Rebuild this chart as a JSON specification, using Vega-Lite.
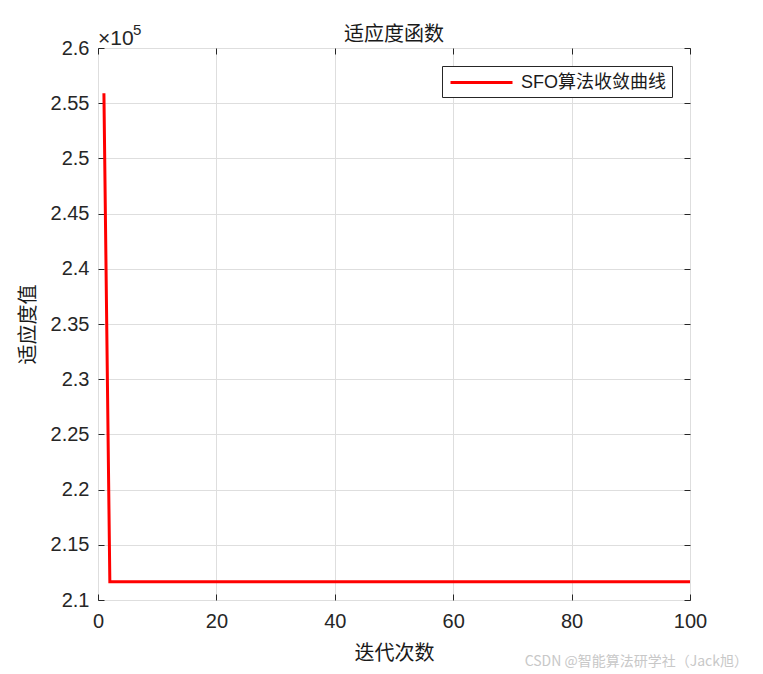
{
  "$schema": "https://vega.github.io/schema/vega-lite/v6.json",
  "width": 592,
  "height": 552,
  "autosize": {"type": "none"},
  "padding": {"left": 98, "top": 48, "right": 73, "bottom": 74},
  "background": "white",
  "config": {
    "view": {"stroke": "#262626", "strokeWidth": 1},
    "font": "Liberation Sans"
  },
  "title": {
    "text": "适应度函数",
    "font": "Noto Sans CJK SC",
    "fontSize": 20,
    "fontWeight": "normal",
    "color": "#1a1a1a",
    "offset": 0,
    "dy": 22,
    "anchor": "middle"
  },
  "datasets": {
    "curve": [
      {"iter": 1, "fitness": 255900, "series": "SFO算法收敛曲线"},
      {"iter": 2, "fitness": 211650, "series": "SFO算法收敛曲线"},
      {"iter": 3, "fitness": 211650, "series": "SFO算法收敛曲线"},
      {"iter": 4, "fitness": 211650, "series": "SFO算法收敛曲线"},
      {"iter": 5, "fitness": 211650, "series": "SFO算法收敛曲线"},
      {"iter": 6, "fitness": 211650, "series": "SFO算法收敛曲线"},
      {"iter": 7, "fitness": 211650, "series": "SFO算法收敛曲线"},
      {"iter": 8, "fitness": 211650, "series": "SFO算法收敛曲线"},
      {"iter": 9, "fitness": 211650, "series": "SFO算法收敛曲线"},
      {"iter": 10, "fitness": 211650, "series": "SFO算法收敛曲线"},
      {"iter": 20, "fitness": 211650, "series": "SFO算法收敛曲线"},
      {"iter": 30, "fitness": 211650, "series": "SFO算法收敛曲线"},
      {"iter": 40, "fitness": 211650, "series": "SFO算法收敛曲线"},
      {"iter": 50, "fitness": 211650, "series": "SFO算法收敛曲线"},
      {"iter": 60, "fitness": 211650, "series": "SFO算法收敛曲线"},
      {"iter": 70, "fitness": 211650, "series": "SFO算法收敛曲线"},
      {"iter": 80, "fitness": 211650, "series": "SFO算法收敛曲线"},
      {"iter": 90, "fitness": 211650, "series": "SFO算法收敛曲线"},
      {"iter": 100, "fitness": 211650, "series": "SFO算法收敛曲线"}
    ],
    "base": [
      {"iter": 0, "fitness": 260000, "label": "×10"}
    ],
    "expo": [
      {"iter": 0, "fitness": 260000, "label": "5"}
    ],
    "mark": [
      {"iter": 100, "fitness": 210000, "label": "CSDN @智能算法研学社（Jack旭）"}
    ]
  },
  "layer": [
    {
      "data": {"name": "curve"},
      "mark": {"type": "line", "strokeWidth": 3, "clip": true},
      "encoding": {
        "x": {
          "field": "iter", "type": "quantitative",
          "scale": {"domain": [0, 100], "nice": false, "zero": false},
          "axis": {
            "title": "迭代次数",
            "titleFont": "Noto Sans CJK SC",
            "titleFontSize": 20,
            "titleFontWeight": "normal",
            "titleColor": "#1a1a1a",
            "titlePadding": 12,
            "values": [0, 20, 40, 60, 80, 100],
            "labelFontSize": 20,
            "labelColor": "#262626",
            "labelPadding": 17,
            "tickSize": -6,
            "tickColor": "#262626",
            "domain": false,
            "gridColor": "#dedede",
            "labelFlush": false
          }
        },
        "y": {
          "field": "fitness", "type": "quantitative",
          "scale": {"domain": [210000, 260000], "nice": false, "zero": false},
          "axis": {
            "title": "适应度值",
            "titleFont": "Noto Sans CJK SC",
            "titleFontSize": 20,
            "titleFontWeight": "normal",
            "titleColor": "#1a1a1a",
            "titlePadding": 12,
            "values": [210000, 215000, 220000, 225000, 230000, 235000, 240000, 245000, 250000, 255000, 260000],
            "labelExpr": "datum.value / 100000 + ''",
            "labelFontSize": 20,
            "labelColor": "#262626",
            "labelPadding": 15,
            "tickSize": -6,
            "tickColor": "#262626",
            "domain": false,
            "gridColor": "#dedede",
            "labelFlush": false
          }
        },
        "stroke": {
          "field": "series", "type": "nominal",
          "scale": {"range": ["#ff0000"]},
          "legend": {
            "title": null,
            "orient": "top-right",
            "offset": 18,
            "fillColor": "white",
            "strokeColor": "#262626",
            "padding": 5,
            "symbolType": "M-3.1,0L3.1,0",
            "symbolSize": 400,
            "symbolOffset": 23,
            "labelOffset": 28,
            "symbolStrokeWidth": 3,
            "labelFont": "Liberation Sans, Noto Sans CJK SC",
            "labelFontSize": 18,
            "labelColor": "#1a1a1a",
            "labelLimit": 300
          }
        }
      }
    },
    {
      "data": {"name": "curve"},
      "mark": {"type": "point", "opacity": 0},
      "encoding": {
        "x": {
          "field": "iter", "type": "quantitative",
          "axis": {"orient": "top", "labels": false, "title": null, "grid": false, "domain": false, "tickSize": -6, "tickColor": "#262626", "values": [0, 20, 40, 60, 80, 100]}
        },
        "y": {
          "field": "fitness", "type": "quantitative",
          "axis": {"orient": "right", "labels": false, "title": null, "grid": false, "domain": false, "tickSize": -6, "tickColor": "#262626", "values": [210000, 215000, 220000, 225000, 230000, 235000, 240000, 245000, 250000, 255000, 260000]}
        }
      }
    },
    {
      "data": {"name": "base"},
      "mark": {"type": "text", "align": "left", "baseline": "alphabetic", "fontSize": 21, "dy": -3, "color": "#262626", "font": "Liberation Sans"},
      "encoding": {
        "x": {"field": "iter", "type": "quantitative", "axis": null},
        "y": {"field": "fitness", "type": "quantitative", "axis": null},
        "text": {"field": "label"}
      }
    },
    {
      "data": {"name": "expo"},
      "mark": {"type": "text", "align": "left", "baseline": "alphabetic", "fontSize": 15, "dx": 35, "dy": -13, "color": "#262626", "font": "Liberation Sans"},
      "encoding": {
        "x": {"field": "iter", "type": "quantitative", "axis": null},
        "y": {"field": "fitness", "type": "quantitative", "axis": null},
        "text": {"field": "label"}
      }
    },
    {
      "data": {"name": "mark"},
      "mark": {"type": "text", "align": "right", "baseline": "middle", "fontSize": 14, "dx": 58, "dy": 62, "color": "#c8c8c8", "font": "Noto Sans CJK SC", "clip": false},
      "encoding": {
        "x": {"field": "iter", "type": "quantitative", "axis": null},
        "y": {"field": "fitness", "type": "quantitative", "axis": null},
        "text": {"field": "label"}
      }
    }
  ],
  "resolve": {"axis": {"x": "independent", "y": "independent"}}
}
